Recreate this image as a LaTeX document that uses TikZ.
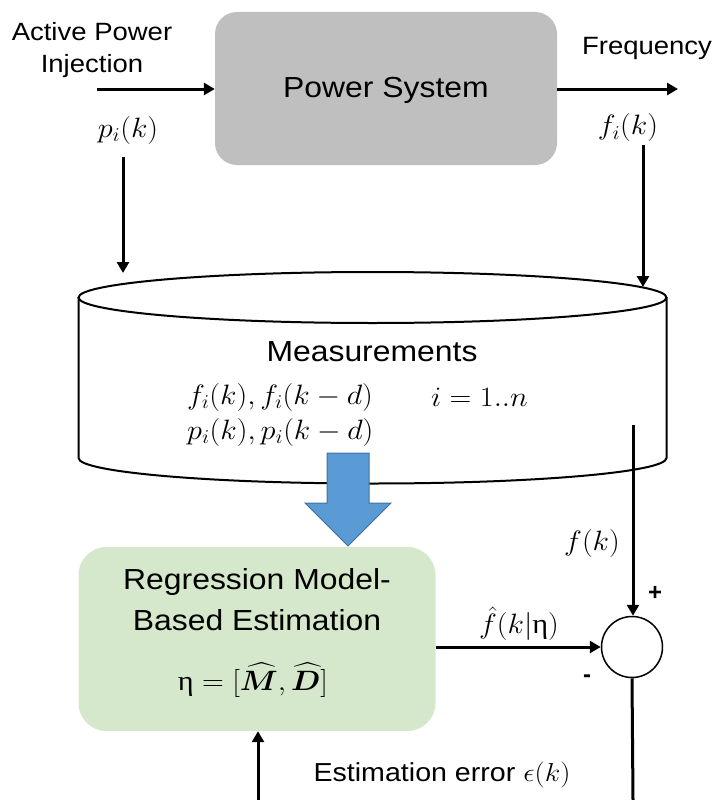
\RequirePackage{fix-cm}
\documentclass[tikz,border=0pt]{standalone}
\usepackage{amsmath,bm}
\usepackage{fontspec}
\setmainfont{Liberation Sans}
\newfontfamily\grkserif{Liberation Serif}
\usetikzlibrary{arrows.meta,calc}
\definecolor{psgray}{HTML}{BFBFBF}
\definecolor{regreen}{HTML}{D5E8CB}
\definecolor{arrblue}{HTML}{5B9BD5}
\definecolor{arredge}{HTML}{41719C}
\newcommand{\upeta}{\text{\grkserif η}}
\begin{document}
\begin{tikzpicture}[x=1pt,y=-1pt,
  conn/.style={line width=3pt,-{Triangle[length=11pt,width=12pt]}},
  plain/.style={line width=3pt},
  tx/.style={inner sep=0pt, xscale=1.1, transform shape, align=center},
  fs25/.style={font=\fontsize{25}{32}\selectfont},
  fs26/.style={font=\fontsize{26}{32}\selectfont},
  fs29/.style={font=\fontsize{29}{37}\selectfont},
  mth/.style={inner sep=0pt, xscale=1.08, transform shape, font=\fontsize{28}{33}\selectfont}]
\useasboundingbox (0,0) rectangle (716,800);

% power system
\node[fill=psgray, rounded corners=22pt, minimum width=342pt, minimum height=153pt] (ps) at (386,88.5) {};
\node[tx, fs29] (pstext) at (386,90) {Power System};

\node[tx, fs25] (api) at (92,50) {Active Power\\Injection};
\node[mth] (pk) at (128,130) {$p_i(k)$};
\node[tx, fs25] (freq) at (647,48) {Frequency};
\node[mth] (fk) at (628,128) {$f_i(k)$};

\coordinate (in) at (97,89);
\draw[conn] (in) -- (in -| ps.west);
\coordinate (out) at (678,89);
\draw[conn] (out -| ps.east) -- (out);

\coordinate (pa1) at (123,157);
\coordinate (pa2) at (123,273);
\draw[conn] (pa1) -- (pa2);
\coordinate (fa1) at (643,145);
\coordinate (fa2) at (643,287);
\draw[conn] (fa1) -- (fa2);

% cylinder
\draw[line width=2pt, fill=white] (78.5,297.5) -- (78.5,458)
  arc[start angle=180, end angle=0, x radius=294, y radius=25.5] -- (666.5,297.5);
\draw[line width=2pt] (372.5,297.5) ellipse[x radius=294, y radius=25.5];
\node[minimum width=588pt, minimum height=186pt, inner sep=0pt] (meas) at (372.5,390) {};
\node[tx, fs29] (mtitle) at (372,352) {Measurements};
\node[mth, anchor=west] (m1) at (187,397) {$f_i(k), f_i(k-d)$};
\node[mth, anchor=west] (m2) at (187,432) {$p_i(k), p_i(k-d)$};
\node[mth, anchor=west] (m3) at (431,397) {$i = 1..n$};

% green box
\node[fill=regreen, rounded corners=28pt, minimum width=357pt, minimum height=184pt] (reg) at (257,639) {};
\node[tx, fs29] (r1) at (257,582) {Regression Model-};
\node[tx, fs29] (r2) at (257,620) {Based Estimation};
\node[mth] (r3) at (253,680) {$\upeta = [\bm{\widehat{M}}, \bm{\widehat{D}}]$};

% blue arrow
\draw[fill=arrblue, draw=arredge, line width=1pt]
  (327,453) -- (369,453) -- (369,503) -- (391,503) -- (348,546) -- (305,503) -- (327,503) -- cycle;

% summing junction
\node[circle, draw, line width=1.5pt, minimum size=61pt, inner sep=0pt] (sum) at (632,647) {};
\coordinate (fstart) at (633,425);
\draw[conn] (fstart) -- (fstart |- sum.north);
\node[mth] (fkl) at (592,543) {$f(k)$};
\node[inner sep=0pt, font=\bfseries\fontsize{24}{28}\selectfont] (plus) at (655,593) {+};
\node[inner sep=0pt, font=\bfseries\fontsize{24}{28}\selectfont] (minus) at (587,679) {-};

\draw[conn] (reg.east |- sum) -- (sum.west);
\node[mth] (fhat) at (519,624) {$\hat f(k|\upeta)$};

\coordinate (bot1) at (633,800);
\draw[plain] (sum.south) -- (bot1);
\coordinate (bot2) at (258,800);
\draw[conn] (bot2) -- (bot2 |- reg.south);
\node[tx, fs26] (err) at (442,775) {Estimation error $\epsilon(k)$};
\end{tikzpicture}
\end{document}
